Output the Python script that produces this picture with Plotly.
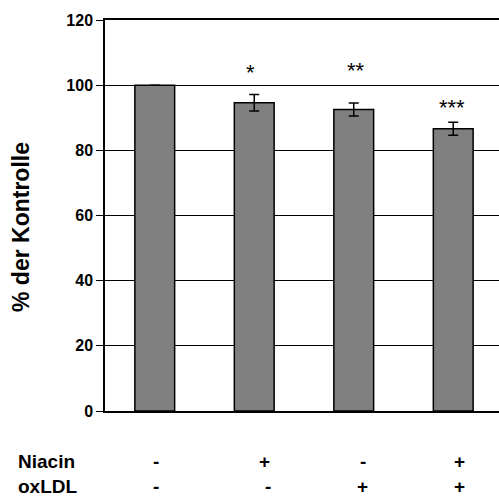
import plotly.graph_objects as go

categories = ["A", "B", "C", "D"]
values = [100, 94.6, 92.5, 86.6]
errors = [0, 2.5, 2.0, 2.0]
stars = ["", "*", "**", "***"]
star_y = [None, 104.0, 104.5, 93.3]
star_shift = [0, -3.5, 2, -1]
niacin = ["-", "+", "-", "+"]
oxldl = ["-", "-", "+", "+"]
yticks = [0, 20, 40, 60, 80, 100, 120]

FONT = "Arial, Liberation Sans, sans-serif"

fig = go.Figure()
fig.add_trace(go.Bar(
    x=list(range(len(categories))), y=values,
    width=0.4,
    marker=dict(color="#808080", line=dict(color="black", width=1.5)),
    error_y=dict(type="data", array=errors, visible=True, color="black",
                 thickness=1.5, width=5),
))

for i, s in enumerate(stars):
    if s:
        fig.add_annotation(x=i, y=star_y[i], text=s, showarrow=False,
                           yanchor="middle", xshift=star_shift[i],
                           font=dict(family=FONT, size=22, color="black"))

shifts = [1, 10, 9, 6]
for i in range(len(categories)):
    fig.add_annotation(x=i, y=-0.128, yref="paper", text="<b>%s</b>" % niacin[i],
                       showarrow=False, xshift=shifts[i], yanchor="middle",
                       font=dict(family=FONT, size=19, color="black"))
    fig.add_annotation(x=i, y=-0.192, yref="paper", text="<b>%s</b>" % oxldl[i],
                       showarrow=False, xshift=shifts[i] + (4 if i == 1 else 0),
                       yanchor="middle",
                       font=dict(family=FONT, size=19, color="black"))

for lab, yy in (("Niacin", -0.128), ("oxLDL", -0.192)):
    fig.add_annotation(x=(16 - 105) / 394, xref="paper", y=yy, yref="paper",
                       text="<b>%s</b>" % lab, showarrow=False,
                       xanchor="left", yanchor="middle",
                       font=dict(family=FONT, size=19, color="black"))

# y-axis title
fig.add_annotation(x=(21 - 105) / 394, xref="paper", y=(411 - 227) / 391, yref="paper",
                   text="<b>% der Kontrolle</b>", showarrow=False, textangle=-90,
                   xanchor="center", yanchor="middle",
                   font=dict(family=FONT, size=23, color="black"))

fig.update_layout(
    width=499, height=500,
    margin=dict(l=105, r=0, t=20, b=89),
    plot_bgcolor="white", paper_bgcolor="white",
    showlegend=False,
    xaxis=dict(range=[-0.5, 3.46], showticklabels=False, ticks="",
               showgrid=False, zeroline=False, showline=True,
               linecolor="black", linewidth=1.5, mirror=True),
    yaxis=dict(range=[0, 120], tickvals=yticks, ticks="outside", ticklen=7,
               tickcolor="black", tickwidth=1,
               showline=True, linecolor="black", linewidth=1.5,
               showgrid=True, gridcolor="black", gridwidth=1, zeroline=False,
               tickfont=dict(family=FONT, size=16, color="black", weight="bold")),
)

fig.write_html("out.html", config={"displayModeBar": False},
               post_script="document.body.style.margin='0';document.body.style.padding='0';")
